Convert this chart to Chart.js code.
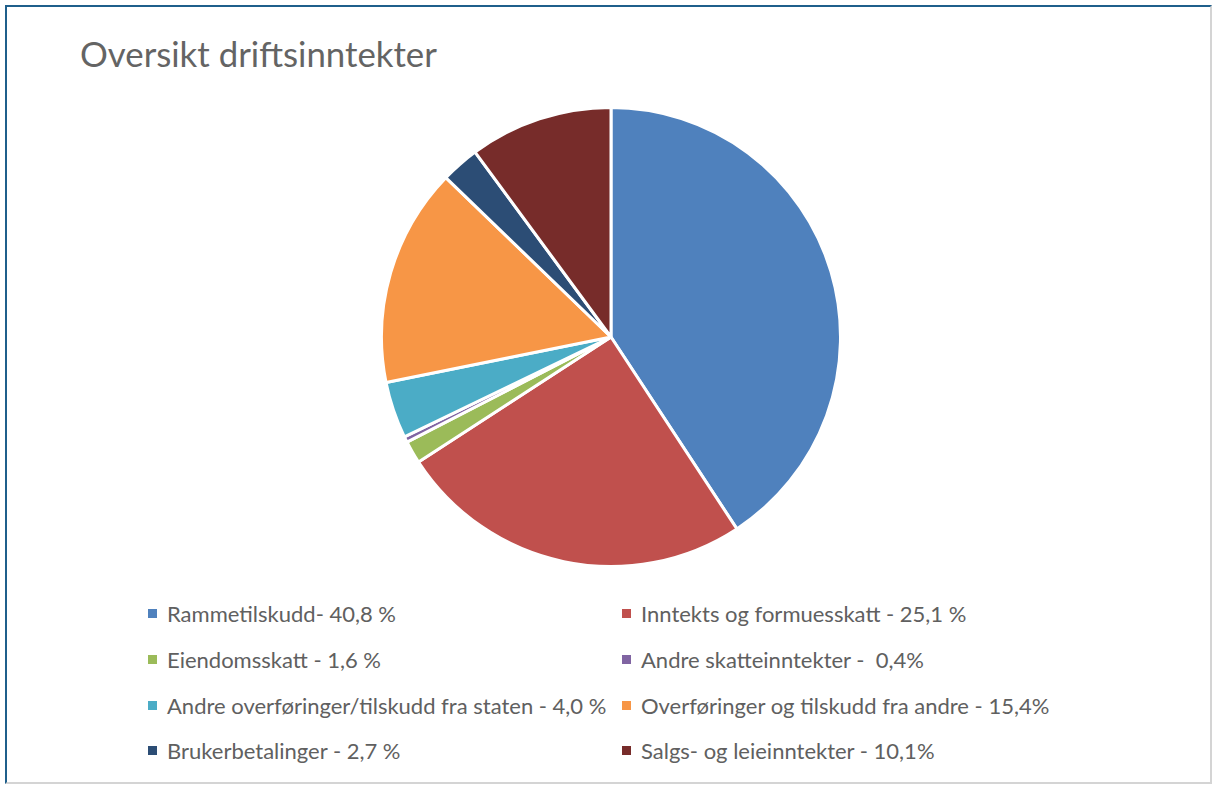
<!DOCTYPE html>
<html>
<head>
<meta charset="utf-8">
<script src="https://cdn.jsdelivr.net/npm/chart.js@4"></script>
<style>
  body { margin: 0; background: #fff; font-family: Lato, "Open Sans", sans-serif; }
  #ramme {
    position: absolute; left: 5px; top: 5px; width: 1207px; height: 779px;
    border-left: 2px solid #1f5f8b; border-top: 2px solid #1f5f8b;
    border-right: 2px solid #d4d4d4; border-bottom: 2px solid #d4d4d4;
    box-sizing: border-box;
  }
  #tittel {
    position: absolute; left: 80px; top: 33px; margin: 0;
    font-size: 34.8px; font-weight: normal; color: #646464; white-space: nowrap;
  }
  #kake { position: absolute; left: 380px; top: 106px; width: 462px; height: 462px; }
  #legende {
    position: absolute; left: 148px; top: 591px;
    display: grid; grid-template-columns: 474px 460px; grid-auto-rows: 45.7px;
    font-size: 22px; color: #606060;
  }
  .rad { display: flex; align-items: center; white-space: pre; }
  .boks { width: 9px; height: 9px; margin-right: 10px; flex: none; }
</style>
</head>
<body>
<div id="ramme"></div>
<h1 id="tittel">Oversikt driftsinntekter</h1>
<div id="kake"><canvas id="graf"></canvas></div>
<div id="legende"></div>
<script>
const kategorier = [
  'Rammetilskudd- 40,8 %',
  'Inntekts og formuesskatt - 25,1 %',
  'Eiendomsskatt - 1,6 %',
  'Andre skatteinntekter -  0,4%',
  'Andre overføringer/tilskudd fra staten - 4,0 %',
  'Overføringer og tilskudd fra andre - 15,4%',
  'Brukerbetalinger - 2,7 %',
  'Salgs- og leieinntekter - 10,1%'
];
const andeler = [40.8, 25.1, 1.6, 0.4, 4.0, 15.4, 2.7, 10.1];
const farger = ['#4f81bd', '#c0504d', '#9bbb59', '#8064a2', '#4bacc6', '#f79646', '#2c4d75', '#772c2a'];

const graf = new Chart(document.getElementById('graf'), {
  type: 'pie',
  data: {
    labels: kategorier,
    datasets: [{
      data: andeler,
      backgroundColor: farger,
      borderColor: '#ffffff',
      borderWidth: 3
    }]
  },
  options: {
    responsive: true,
    maintainAspectRatio: false,
    animation: false,
    plugins: {
      legend: { display: false },
      tooltip: { enabled: false }
    }
  }
});

// egen legende i to kolonner, som i Excel
const legende = document.getElementById('legende');
graf.data.labels.forEach((navn, i) => {
  const rad = document.createElement('div');
  rad.className = 'rad';
  const boks = document.createElement('span');
  boks.className = 'boks';
  boks.style.background = graf.data.datasets[0].backgroundColor[i];
  const tekst = document.createElement('span');
  tekst.textContent = navn;
  rad.appendChild(boks);
  rad.appendChild(tekst);
  legende.appendChild(rad);
});
</script>
</body>
</html>
